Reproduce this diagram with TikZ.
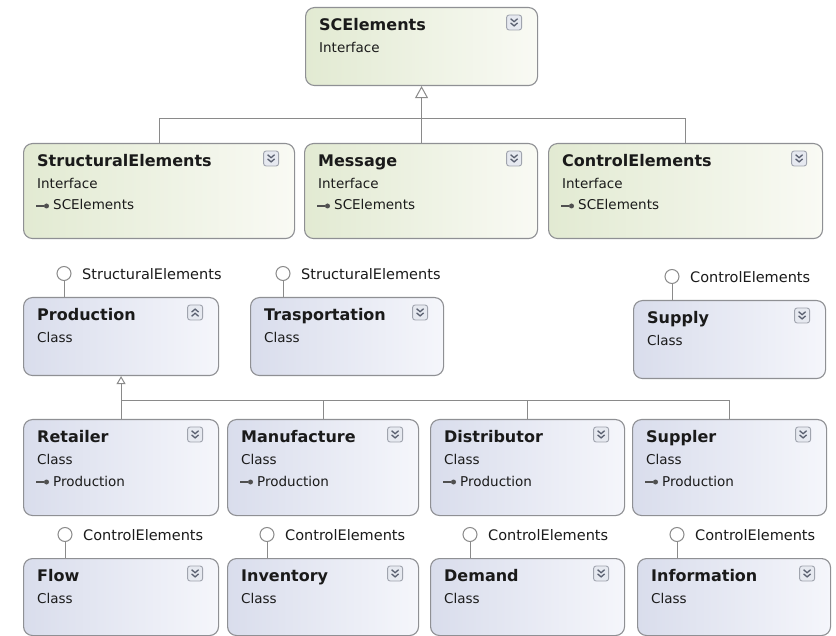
\documentclass[tikz,border=0pt]{standalone}
\usepackage{fontspec}
\setmainfont{DejaVu Sans}
\usetikzlibrary{arrows.meta,calc}
\definecolor{ifL}{HTML}{E2EAD2}
\definecolor{ifR}{HTML}{F9FAF4}
\definecolor{clL}{HTML}{D9DDEC}
\definecolor{clR}{HTML}{F5F6FB}
\definecolor{bordergray}{HTML}{8F9094}
\definecolor{linegray}{HTML}{8A8A8A}
\definecolor{txt}{HTML}{1A1A1A}
\definecolor{iconfill}{HTML}{E6E9F0}
\definecolor{icongray}{HTML}{A0A4AE}
\definecolor{chevcol}{HTML}{5A6070}
\definecolor{inhcol}{HTML}{505050}
\tikzset{
  ibox/.style={draw=bordergray, line width=1.1pt, rounded corners=9pt, left color=ifL, right color=ifR, inner sep=0pt},
  cbox/.style={draw=bordergray, line width=1.1pt, rounded corners=9pt, left color=clL, right color=clR, inner sep=0pt},
  ttl/.style={anchor=base west, inner sep=0pt, text=txt, font=\fontsize{16}{19}\selectfont\bfseries},
  subt/.style={anchor=base west, inner sep=0pt, text=txt, font=\fontsize{13.5}{16}\selectfont},
  lbl/.style={anchor=base west, inner sep=0pt, text=txt, font=\fontsize{14.5}{17}\selectfont},
  conn/.style={draw=linegray, line width=1pt},
  gen/.style={conn, -{Triangle[open, length=12pt, width=13pt, fill=white]}},
  gensmall/.style={conn, -{Triangle[open, length=8pt, width=9pt, fill=white]}},
  lolli/.style={circle, draw=linegray, line width=1pt, fill=white, minimum size=14pt, inner sep=0pt},
  togglebg/.style={draw=icongray, fill=iconfill, rounded corners=2.5pt, line width=0.9pt},
  chev/.style={draw=chevcol, line width=1.3pt},
  inhline/.style={draw=inhcol, line width=1.1pt},
  downicon/.pic={\path[togglebg] (-7.5,-7.5) rectangle (7.5,7.5);
     \draw[chev] (-3.5,-3.8) -- (0,-0.8) -- (3.5,-3.8) (-3.5,0.4) -- (0,3.4) -- (3.5,0.4);},
  upicon/.pic={\path[togglebg] (-7.5,-7.5) rectangle (7.5,7.5);
     \draw[chev] (-3.5,3.8) -- (0,0.8) -- (3.5,3.8) (-3.5,-0.4) -- (0,-3.4) -- (3.5,-0.4);},
}
\newcommand\umlbox[9][downicon]{%
  \node[#3, minimum width=#5pt, minimum height=#6pt, anchor=north west] (#2) at (#4) {};
  \node[ttl] (#2-t) at ($(#2.north west)+(14,23.5)$) {#7};
  \node[subt] (#2-s) at ($(#2.north west)+(14,45.5)$) {#8};
  \pic at ($(#2.north east)+(-24,15.5)$) {#1};
  \def\thirdline{#9}%
  \ifx\thirdline\empty\else
    \node[subt] (#2-i) at ($(#2.north west)+(30,67)$) {#9};
    \draw[inhline] ($(#2.north west)+(13,63)$) -- ++(8,0);
    \fill[inhcol] ($(#2.north west)+(23.5,63)$) circle (2.5pt);
  \fi
}
\newcommand\lollipop[4]{%
  \node[lolli] (#1) at ($(#2.north west)+(#3,-23.5)$) {};
  \draw[conn] (#1.south) -- (#1.south |- #2.north);
  \node[lbl] (#1-l) at ($(#1.center)+(18,6)$) {#4};
}
\begin{document}
\begin{tikzpicture}[x=1pt,y=-1pt]
\useasboundingbox (0,0) rectangle (836,636);
\fill[white] (0,0) rectangle (836,636);

% interfaces
\umlbox{sce}{ibox}{305,7}{232}{78}{SCElements}{Interface}{}
\umlbox{stre}{ibox}{23,143}{271}{95}{StructuralElements}{Interface}{SCElements}
\umlbox{msg}{ibox}{304,143}{233}{95}{Message}{Interface}{SCElements}
\umlbox{ctle}{ibox}{548,143}{274}{95}{ControlElements}{Interface}{SCElements}

% classes row 3
\umlbox[upicon]{prod}{cbox}{23,297}{195}{78}{Production}{Class}{}
\umlbox{tras}{cbox}{250,297}{193}{78}{Trasportation}{Class}{}
\umlbox{supply}{cbox}{633,300}{192}{78}{Supply}{Class}{}

% classes row 4
\umlbox{ret}{cbox}{23,419}{195}{96}{Retailer}{Class}{Production}
\umlbox{man}{cbox}{227,419}{191}{96}{Manufacture}{Class}{Production}
\umlbox{dis}{cbox}{430,419}{194}{96}{Distributor}{Class}{Production}
\umlbox{sup}{cbox}{632,419}{194}{96}{Suppler}{Class}{Production}

% classes row 5
\umlbox{flow}{cbox}{23,558}{195}{77}{Flow}{Class}{}
\umlbox{inv}{cbox}{227,558}{191}{77}{Inventory}{Class}{}
\umlbox{dem}{cbox}{430,558}{194}{77}{Demand}{Class}{}
\umlbox{inf}{cbox}{637,558}{193}{77}{Information}{Class}{}

% lollipops
\begin{scope}
  \clip (0,0) rectangle (222,636);
  \lollipop{lprod}{prod}{41}{StructuralElements}
\end{scope}
\lollipop{ltras}{tras}{33}{StructuralElements}
\lollipop{lsupply}{supply}{39}{ControlElements}
\lollipop{lflow}{flow}{42}{ControlElements}
\lollipop{linv}{inv}{40}{ControlElements}
\lollipop{ldem}{dem}{40}{ControlElements}
\lollipop{linf}{inf}{40}{ControlElements}

% generalizations
\coordinate (j1) at ($(sce.south)+(0,32)$);
\draw[gen] (j1) -- (sce.south);
\draw[conn] (stre.north) -- (stre.north |- j1) -- (ctle.north |- j1) -- (ctle.north);
\draw[conn] (msg.north) -- (msg.north |- j1);

\coordinate (j2) at ($(prod.south)+(0,24)$);
\draw[gensmall] (j2) -- (prod.south);
\draw[conn] (ret.north) -- (ret.north |- j2) -- (sup.north |- j2) -- (sup.north);
\draw[conn] (man.north) -- (man.north |- j2);
\draw[conn] (dis.north) -- (dis.north |- j2);
\end{tikzpicture}
\end{document}
